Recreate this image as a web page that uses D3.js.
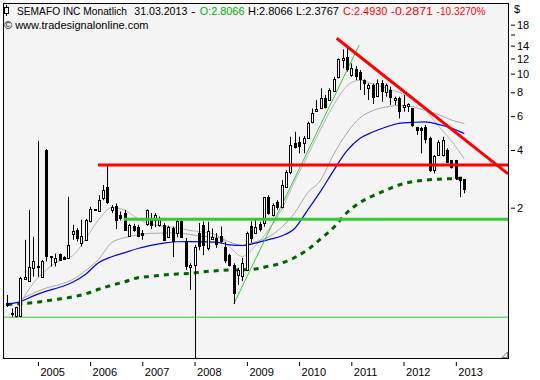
<!DOCTYPE html>
<html><head><meta charset="utf-8">
<script src="https://cdn.jsdelivr.net/npm/d3@7"></script>
<style>
html,body{margin:0;padding:0;background:#fff;}
svg{display:block;font-family:"Liberation Sans",Arial,sans-serif;}
</style></head><body>
<svg id="c" width="540" height="380"></svg>
<script>
// ---------- DATA ----------
const startYear = 2004, startMonth = 6; // first monthly bar: June 2004
const opens  = [.639,.567,.540,.540,.857,.833,.968,.996,.873,4.00,1.117,1.049,1.144,1.106,1.092,1.453,1.53,1.316,1.36,1.695,1.958,1.911,2.235,2.572,
  1.958,2.04,1.837,1.874,1.424,1.611,1.595,1.47,1.63,1.765,1.73,1.63,1.63,1.401,1.566,1.47,1.695,1.333,.980,1.008,1.47,1.619,1.235,1.371,1.392,1.424,
  1.242,1.13,1.008,.892,.882,.947,1.611,1.481,1.649,1.662,2.27,1.837,2.146,2.02,2.572,3.077,4.366,4.40,4.33,4.645,5.62,6.33,6.68,7.49,7.29,8.12,9.52,
  11.78,12.25,9.84,10.53,10.24,9.26,8.39,8.72,7.65,8.90,8.05,8.22,7.29,7.44,6.72,6.75,6.59,5.28,5.18,5.28,4.60,3.14,3.77,3.77,4.00,3.55,3.55,2.88,2.8066];
const highs  = [.702,.597,.608,.873,1.36,1.95,1.41,4.46,1.07,4.05,1.12,1.153,1.153,1.117,2.28,1.63,1.566,1.73,1.75,2.02,1.964,2.327,2.628,3.344,
  2.063,2.105,1.911,1.95,1.649,1.649,1.63,1.53,1.958,1.874,1.874,1.798,1.662,1.611,1.595,1.716,1.716,1.392,1.028,1.281,1.662,1.695,1.689,1.558,1.476,1.595,
  1.327,1.151,1.026,.970,1.096,1.50,1.695,1.73,1.689,2.277,2.327,2.105,2.19,2.79,3.14,4.69,4.98,4.69,4.73,5.62,6.59,7.29,8.39,7.74,8.39,9.63,12.0,
  13.39,13.8,11.32,10.96,10.45,9.34,8.90,8.90,9.34,9.26,8.90,8.55,7.58,7.58,7.74,7.01,6.59,5.28,5.28,5.40,4.69,3.77,4.51,4.69,4.08,3.55,3.55,2.88,2.8066];
const lows   = [.607,.540,.536,.538,.849,.823,.873,.873,.868,1.05,.987,.987,1.061,1.072,1.089,1.36,1.333,1.254,1.352,1.675,1.927,1.911,2.19,2.087,
  1.874,1.547,1.716,1.518,1.414,1.50,1.401,1.36,1.611,1.547,1.585,1.595,1.349,1.392,1.106,1.401,1.392,.947,.745,0.30,1.20,1.13,1.20,1.36,1.235,1.307,
  1.028,.987,.629,.791,.830,.940,1.313,1.47,1.502,1.59,1.837,1.798,1.95,1.982,2.556,2.99,4.07,3.84,3.85,4.60,5.51,6.33,6.59,6.59,7.25,8.05,9.45,
  10.66,10.24,9.63,9.26,8.22,7.74,7.29,6.95,7.58,7.14,7.58,6.87,6.87,5.84,6.33,6.31,5.28,4.79,3.84,4.33,3.077,3.02,3.725,3.70,3.41,3.20,2.79,2.27,2.3767];
const closes = [.624,.557,.605,.857,.873,.987,1.057,.980,1.057,1.117,1.10,1.099,1.07,1.074,1.281,1.512,1.395,1.424,1.73,1.964,1.934,2.19,2.47,2.146,
  2.02,1.716,1.765,1.53,1.63,1.53,1.424,1.441,1.934,1.63,1.837,1.765,1.36,1.585,1.333,1.695,1.401,.987,1.008,1.254,1.254,1.281,1.512,1.406,1.296,1.344,
  1.057,1.002,.716,.947,1.033,1.47,1.389,1.595,1.552,2.262,1.874,2.063,2.02,2.628,3.077,4.248,4.158,4.217,4.62,5.53,6.25,6.51,7.49,6.72,8.22,9.34,11.87,
  12.0,10.66,10.66,9.71,9.45,8.90,8.72,7.58,8.90,8.05,8.72,7.58,7.44,6.33,6.87,6.95,5.40,5.08,5.08,4.55,3.14,3.725,4.42,4.51,3.48,3.27,2.846,2.79,2.4930];

// moving averages, read every third bar (bar index)
const maIndex  = [0,3,6,9,12,15,18,21,24,27,30,33,36,39,42,45,48,51,54,57,60,63,66,69,72,75,78,81,84,87,90,93,96,99,102,105];
const maFast   = [null,.637,.81,.947,1.057,1.123,1.376,1.73,2.0,1.938,1.751,1.638,1.60,1.571,1.521,1.493,1.441,1.25,1.114,1.266,1.53,1.964,2.74,3.725,5.14,6.90,8.62,9.24,8.82,8.41,7.98,7.37,6.46,5.33,4.46,3.59];
const maSlow   = [null,.664,.716,.763,.795,.845,.941,1.076,1.315,1.397,1.444,1.47,1.475,1.475,1.449,1.415,1.406,1.327,1.273,1.327,1.406,1.581,1.882,2.384,2.79,3.81,4.90,5.87,6.42,6.70,6.83,6.73,6.42,6.12,5.73,5.50];
const maBlue   = [.629,.648,.694,.734,.769,.818,.900,1.033,1.11,1.167,1.225,1.272,1.308,1.329,1.33,1.328,1.324,1.281,1.27,1.306,1.363,1.425,1.558,1.938,2.44,3.14,3.952,4.59,4.96,5.27,5.51,5.57,5.61,5.44,5.20,4.87];
const maLong   = [.625,.632,.640,.653,.669,.685,.711,.751,.788,.822,.863,.876,.892,.903,.908,.925,.939,.947,.949,.958,.99,1.028,1.10,1.207,1.376,1.581,1.882,2.125,2.307,2.47,2.628,2.729,2.787,2.818,2.835,2.857];

// drawn levels and trend lines
const resistanceLevel = 3.34, resistanceFrom = "2006-02-25";
const supportLevel = 1.74, supportFrom = "2006-08-25";
const floorLevel = 0.537;
const upTrend   = [["2008-10-01", 0.629], ["2011-02-25", 14.1]];
const downTrend = [["2010-09-21", 15.3], ["2014-01-01", 3.0]];

const yTicks = [18,16,14,12,10,8,6,4,2];
const yTickLabels = ["18","","14","12","10","8","6","4","2"];
const years = [2005,2006,2007,2008,2009,2010,2011,2012,2013];

const headerParts = [
  ["SEMAFO INC Monatlich", "#000", 17, 110],
  ["31.03.2013", "#000", 134.3, 53],
  ["-", "#000", 191, 4.6],
  ["O:2.8066", "#00b000", 199.7, 44.8],
  ["H:2.8066", "#000", 248, 44.7],
  ["L:2.3767", "#000", 296, 43],
  ["C:2.4930", "#ff0000", 343, 44.4],
  ["-0.2871", "#ff0000", 390.8, 42.2],
  ["-10.3270%", "#ff0000", 436.6, 48.9]
];

// ---------- CHART ----------
const svg = d3.select("#c");
const L = 3, R = 508, T = 3, B = 358;
const parse = d3.timeParse("%Y-%m-%d");
const bars = opens.map((o, i) => ({date: new Date(startYear, startMonth - 1 + i, 1), o, h: highs[i], l: lows[i], c: closes[i]}));

const x = d3.scaleTime()
  .domain([bars[0].date, bars[bars.length - 1].date])
  .range([7.3, 464.3]);
const y = d3.scaleLog().domain([2, 18]).range([207.7, 24.7]);

svg.append("rect").attr("width", 540).attr("height", 380).attr("fill", "#fff");
svg.append("rect").attr("x", L + .5).attr("y", T + .5).attr("width", R - L).attr("height", B - T)
  .attr("fill", "#f4f4f4").attr("stroke", "none");

svg.append("clipPath").attr("id", "pc").append("rect")
  .attr("x", L + 1).attr("y", T + 1).attr("width", R - L - 1).attr("height", B - T - 1);
const g = svg.append("g").attr("clip-path", "url(#pc)");

// horizontal floor level
g.append("line").attr("x1", L).attr("x2", R).attr("y1", y(floorLevel)).attr("y2", y(floorLevel))
  .attr("stroke", "#33cc33").attr("stroke-width", 1);

// moving averages
const maData = arr => maIndex.map((bi, k) => ({date: new Date(startYear, startMonth - 1 + bi, 1), v: arr[k]})).filter(d => d.v != null);
const maLine = d3.line().x(d => x(d.date)).y(d => y(d.v)).curve(d3.curveMonotoneX);
g.append("path").attr("d", maLine(maData(maLong))).attr("fill", "none")
  .attr("stroke", "#006400").attr("stroke-width", 3).attr("stroke-dasharray", "5,5");
g.append("path").attr("d", maLine(maData(maSlow))).attr("fill", "none").attr("stroke", "#a8a8a8").attr("stroke-width", 1);
g.append("path").attr("d", maLine(maData(maFast))).attr("fill", "none").attr("stroke", "#b4b4b4").attr("stroke-width", 1);
g.append("path").attr("d", maLine(maData(maBlue))).attr("fill", "none").attr("stroke", "#0000ff").attr("stroke-width", 1.2);

// trend lines
const tl = d3.line().x(d => x(parse(d[0]))).y(d => y(d[1]));
g.append("path").attr("d", tl(upTrend)).attr("stroke", "#33cc33").attr("stroke-width", 1).attr("fill", "none");

// candles
const cg = g.append("g");
bars.forEach(d => {
  const cx = Math.round(x(d.date)) + 0.5;
  cg.append("line").attr("x1", cx).attr("x2", cx).attr("y1", y(d.h)).attr("y2", y(d.l))
    .attr("stroke", "#000").attr("stroke-width", 1);
  const up = d.c >= d.o;
  const top = Math.round(Math.min(y(d.o), y(d.c))) + 0.5;
  const hgt = Math.max(1, Math.round(Math.abs(y(d.o) - y(d.c))));
  cg.append("rect").attr("x", cx - 1).attr("y", top).attr("width", 2).attr("height", hgt)
    .attr("fill", up ? "#fff" : "#000").attr("stroke", "#000").attr("stroke-width", 1);
});

// thick levels & down trend on top
g.append("line").attr("x1", x(parse(resistanceFrom))).attr("x2", R).attr("y1", y(resistanceLevel)).attr("y2", y(resistanceLevel))
  .attr("stroke", "#ff0000").attr("stroke-width", 3);
g.append("line").attr("x1", x(parse(supportFrom))).attr("x2", R).attr("y1", y(supportLevel)).attr("y2", y(supportLevel))
  .attr("stroke", "#33cc33").attr("stroke-width", 3);
g.append("path").attr("d", tl(downTrend)).attr("stroke", "#ff0000").attr("stroke-width", 3).attr("fill", "none");

// frame
svg.append("rect").attr("x", L + .5).attr("y", T + .5).attr("width", R - L).attr("height", B - T)
  .attr("fill", "none").attr("stroke", "#000").attr("stroke-width", 1);
// resize glyph
svg.append("path").attr("d", `M${R - 6},${B - .5} L${R - .5},${B - 6} L${R - .5},${B - .5} Z`)
  .attr("fill", "#fff").attr("stroke", "#777").attr("stroke-width", 1);

// header
const ht = svg.append("g").attr("font-size", 11);
headerParts.forEach(p => {
  ht.append("text").attr("x", p[2]).attr("y", 14.5).attr("fill", p[1])
    .attr("textLength", p[3]).attr("lengthAdjust", "spacingAndGlyphs").text(p[0]);
});
// small candle icon
svg.append("line").attr("x1", 6.5).attr("x2", 6.5).attr("y1", 5).attr("y2", 16).attr("stroke", "#000");
svg.append("rect").attr("x", 4.5).attr("y", 7.5).attr("width", 4).attr("height", 6).attr("fill", "#fff").attr("stroke", "#000");
svg.append("text").attr("x", 4).attr("y", 28.5).attr("font-size", 11).attr("fill", "#000")
  .text("© www.tradesignalonline.com");

// right axis
const ya = svg.append("g").attr("transform", `translate(${R + 3},0)`)
  .call(d3.axisRight(y).tickValues(yTicks).tickSize(4).tickPadding(2)
    .tickFormat((d, i) => yTickLabels[i]));
ya.select(".domain").remove();
ya.selectAll("text").attr("font-size", 11).attr("font-family", "Liberation Sans, Arial, sans-serif").attr("fill", "#000");
ya.selectAll("line").attr("stroke", "#000");
svg.append("text").attr("x", 514).attr("y", 13).attr("font-size", 11).attr("fill", "#000").text("$");

// bottom axis
const xa = svg.append("g").attr("transform", `translate(0,${B + 4})`)
  .call(d3.axisBottom(x).tickValues(years.map(yr => new Date(yr, 0, 1))).tickSize(4).tickFormat(d3.timeFormat("%Y")));
xa.select(".domain").remove();
xa.selectAll("line").attr("stroke", "#000");
xa.selectAll("text").attr("font-size", 11).attr("font-family", "Liberation Sans, Arial, sans-serif")
  .attr("fill", "#000").attr("text-anchor", "start").attr("dx", 2).attr("dy", 0).attr("y", 14);
</script>
</body></html>
